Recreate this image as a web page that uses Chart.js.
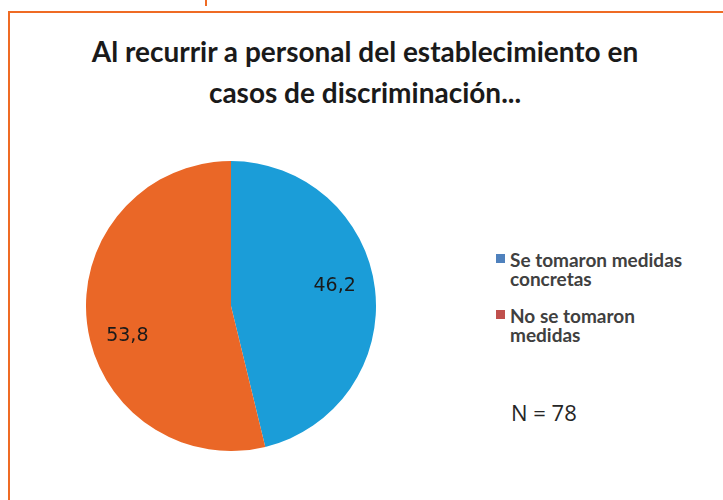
<!DOCTYPE html>
<html lang="es">
<head>
    <meta charset="UTF-8">
    <title>Al recurrir a personal del establecimiento</title>
    <script src="https://cdn.jsdelivr.net/npm/chart.js"></script>
    <style>
        html, body { margin: 0; padding: 0; background: #fff; }
        body { width: 723px; height: 500px; position: relative; overflow: hidden; font-family: Lato, "Open Sans", sans-serif; }
        .frame { position: absolute; left: 8px; top: 11px; width: 760px; height: 540px; border: 2px solid #ef6b24; box-sizing: border-box; }
        .tick { position: absolute; left: 205px; top: 0; width: 2px; height: 6px; background: #ef6b24; }
        .title { position: absolute; left: 0; width: 730px; top: 31px; text-align: center; font-weight: bold; font-size: 28px; line-height: 41px; color: #1a1a1a; }
        .chart-box { position: absolute; left: 86px; top: 161px; width: 290px; height: 290px; }
        .legend { position: absolute; left: 496px; top: 250px; width: 200px; color: #404040; font-weight: bold; font-size: 19px; line-height: 19px; }
        .legend .item { position: relative; padding-left: 14px; margin-bottom: 18px; }
        .legend .sw { position: absolute; left: 0; top: 4px; width: 9px; height: 9px; }
        .n { position: absolute; left: 511px; top: 397px; font-size: 22px; color: #262626; font-family: "Open Sans", sans-serif; }
    </style>
</head>
<body>
    <div class="tick"></div>
    <div class="frame"></div>
    <div class="title">Al recurrir a personal del establecimiento en<br>casos de discriminación...</div>
    <div class="chart-box"><canvas id="pieChart" width="290" height="290"></canvas></div>
    <div class="legend" id="legend"></div>
    <div class="n">N = 78</div>
    <script>
    // datos del gráfico
    const categorias = ['Se tomaron medidas concretas', 'No se tomaron medidas'];
    const valores = [46.2, 53.8];
    const etiquetas = ['46,2', '53,8'];
    const coloresSector = ['#1b9dd8', '#ea6727'];
    const coloresLeyenda = ['#4f81bd', '#c0504d'];

    // leyenda en HTML (texto en dos líneas como en el original)
    const leg = document.getElementById('legend');
    categorias.forEach((c, i) => {
        const d = document.createElement('div');
        d.className = 'item';
        d.innerHTML = '<span class="sw" style="background:' + coloresLeyenda[i] + '"></span>' + c;
        leg.appendChild(d);
    });

    // etiquetas de datos dentro de cada sector
    const etiquetasPlugin = {
        id: 'etiquetas',
        afterDatasetsDraw(chart) {
            const ctx = chart.ctx;
            const meta = chart.getDatasetMeta(0);
            ctx.save();
            ctx.font = '19px "DejaVu Sans", sans-serif';
            ctx.fillStyle = '#1a1a1a';
            ctx.textAlign = 'center';
            ctx.textBaseline = 'middle';
            meta.data.forEach((arc, i) => {
                const p = arc.getProps(['x', 'y', 'startAngle', 'endAngle', 'outerRadius'], true);
                const mid = (p.startAngle + p.endAngle) / 2;
                const r = p.outerRadius * 0.72;
                const x = p.x + Math.cos(mid) * r;
                const y = p.y + Math.sin(mid) * r + (i === 0 ? -8 : 18);
                ctx.fillText(etiquetas[i], x, y);
            });
            ctx.restore();
        }
    };

    new Chart(document.getElementById('pieChart'), {
        type: 'pie',
        data: {
            labels: categorias,
            datasets: [{
                data: valores,
                backgroundColor: coloresSector,
                borderWidth: 0
            }]
        },
        options: {
            responsive: false,
            animation: false,
            layout: { padding: 0 },
            plugins: { legend: { display: false }, tooltip: { enabled: false } }
        },
        plugins: [etiquetasPlugin]
    });
    </script>
</body>
</html>
